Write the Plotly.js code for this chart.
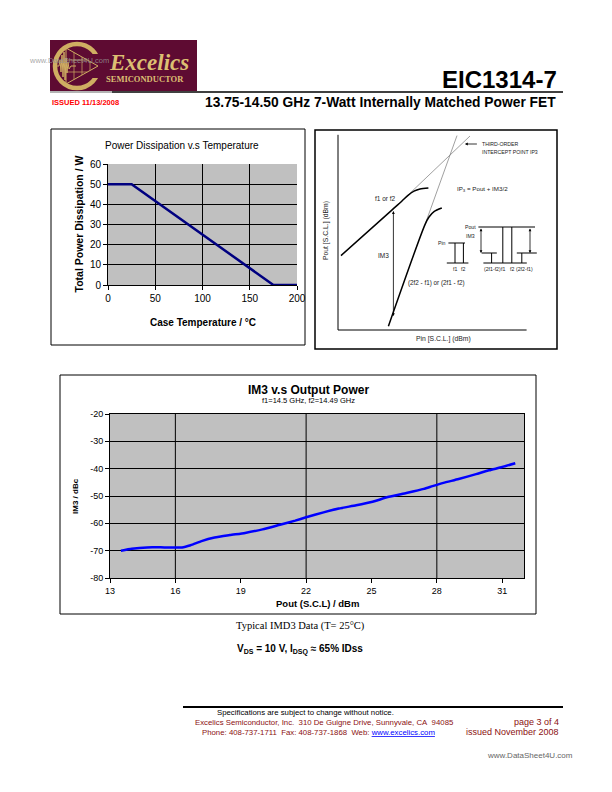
<!DOCTYPE html>
<html><head><meta charset="utf-8">
<script src="https://cdn.plot.ly/plotly-3.0.1.min.js"></script>
<style>html,body{margin:0;padding:0;background:#fff;}#chart{width:612px;height:792px;}</style>
</head><body><div id="chart"></div>
<script>
// ---------- Power dissipation vs temperature ----------
const caseTemp   = [0, 25, 175, 200];
const powerDiss  = [50, 50, 0, 0];

// ---------- IM3 vs output power ----------
const poutDbm = [13.5, 14.0, 14.7, 15.5, 16.3, 16.7, 17.2, 17.8, 18.5, 19.2, 20.0, 20.8, 21.5, 22.0,
                 22.8, 23.5, 24.3, 25.0, 25.8, 26.6, 27.4, 27.8, 28.3, 29.0, 29.8, 30.4, 31.0, 31.6];
const im3Dbc  = [-70.0, -69.3, -68.8, -68.8, -68.8, -68.0, -66.5, -65.2, -64.3, -63.5, -62.2, -60.5, -59.0, -57.8,
                 -56.0, -54.6, -53.4, -52.2, -50.3, -48.9, -47.4, -46.4, -45.2, -43.8, -42.0, -40.6, -39.4, -38.0];
const im3XTicks    = [13, 16, 19, 22, 25, 28, 31];
const im3GridX     = [16, 22, 28];
const im3YTicks    = [-80, -70, -60, -50, -40, -30, -20];
const im3YTickText = ['-80', '-70', '-60', '-50', '-40', '-30', '-20'];

// ---------- Schematic: Pout vs Pin (schematic units) ----------
const diagAxisPin  = [0, 0, 94.3];
const diagAxisPout = [97.6, 0, 0];
const fundPin  = [1.5, 27.2, 32, 35, 38, 41, 45.2];
const fundPout = [37.2, 60.2, 64.5, 67.3, 69.4, 70.5, 71.0];
const fundExtPin  = [30, 66];
const fundExtPout = [62.7, 97];
const im3Pin   = [25.2, 43.5, 45.5, 48, 51.9];
const im3Pout  = [1.9, 52.7, 56.5, 59.2, 61];
const im3ExtPin  = [43.5, 59.5];
const im3ExtPout = [52.7, 97.2];
// spectrum inset segments
const insetPin  = [55.2, 63.5, null, 58.5, 58.5, null, 62.7, 62.7, null, 54.4, 65.2, null,
                   70.2, 98.5, null, 71.8, 79.4, null, 76.8, 76.8, null, 82.4, 82.4, null, 86.9, 86.9, null,
                   89.4, 99.4, null, 91.9, 91.9, null, 72.7, 94.4];
const insetPout = [43.5, 43.5, null, 43.5, 33.5, null, 43.5, 33.5, null, 33.5, 33.5, null,
                   51.5, 51.5, null, 38.5, 38.5, null, 38.5, 33.5, null, 51.5, 33.5, null, 51.5, 33.5, null,
                   38.5, 38.5, null, 38.5, 33.5, null, 33.5, 33.5];

const W = 612, H = 792;
const PX = x => x / W, PY = y => 1 - y / H;
const ARIAL = 'Arial, "Liberation Sans", sans-serif';
const SERIF = '"Liberation Serif", "Times New Roman", serif';
const MAROON = '#5e0b32', GOLD = '#cfae62', PLOTGRAY = '#c0c0c0';

const traces = [
  {x: caseTemp, y: powerDiss, xaxis: 'x', yaxis: 'y', mode: 'lines', line: {color: '#000080', width: 2.5}},
  {x: poutDbm, y: im3Dbc, xaxis: 'x2', yaxis: 'y2', mode: 'lines', line: {color: '#0000ff', width: 2.5, shape: 'spline', smoothing: 0.5}},
  {x: diagAxisPin, y: diagAxisPout, xaxis: 'x3', yaxis: 'y3', mode: 'lines', line: {color: '#000', width: 1}},
  {x: fundExtPin, y: fundExtPout, xaxis: 'x3', yaxis: 'y3', mode: 'lines', line: {color: '#777', width: 0.7}},
  {x: im3ExtPin, y: im3ExtPout, xaxis: 'x3', yaxis: 'y3', mode: 'lines', line: {color: '#777', width: 0.7}},
  {x: fundPin, y: fundPout, xaxis: 'x3', yaxis: 'y3', mode: 'lines', line: {color: '#000', width: 1.5, shape: 'spline', smoothing: 0.8}},
  {x: im3Pin, y: im3Pout, xaxis: 'x3', yaxis: 'y3', mode: 'lines', line: {color: '#000', width: 1.5, shape: 'spline', smoothing: 0.8}},
  {x: insetPin, y: insetPout, xaxis: 'x3', yaxis: 'y3', mode: 'lines', connectgaps: false, line: {color: '#000', width: 1}}
];

const tickStyle = (size) => ({family: ARIAL, size: size, color: '#000'});

const layout = {
  width: W, height: H, margin: {l: 0, r: 0, t: 0, b: 0},
  paper_bgcolor: '#fff', plot_bgcolor: 'rgba(0,0,0,0)', showlegend: false,
  xaxis: {domain: [PX(108), PX(297)], anchor: 'y', range: [0, 200], dtick: 50, tick0: 0,
          showgrid: true, gridcolor: '#000', gridwidth: 1, zeroline: false,
          showline: true, linecolor: '#000', linewidth: 1, ticks: 'outside', ticklen: 4, tickcolor: '#000',
          tickfont: tickStyle(10), fixedrange: true},
  yaxis: {domain: [PY(285), PY(164)], anchor: 'x', range: [0, 60], dtick: 10, tick0: 0,
          showgrid: true, gridcolor: '#000', gridwidth: 1, zeroline: false,
          showline: true, linecolor: '#000', linewidth: 1, ticks: 'outside', ticklen: 4, tickcolor: '#000',
          tickfont: tickStyle(10), fixedrange: true},
  xaxis2: {domain: [PX(110), PX(524)], anchor: 'y2', range: [13, 32], tickvals: im3XTicks,
           showgrid: false, zeroline: false, showline: true, mirror: true, linecolor: '#000', linewidth: 1,
           ticks: 'outside', ticklen: 4, tickcolor: '#000', tickfont: tickStyle(9), fixedrange: true},
  yaxis2: {domain: [PY(578), PY(414)], anchor: 'x2', range: [-80, -20], tickvals: im3YTicks, ticktext: im3YTickText,
           showgrid: true, gridcolor: '#000', gridwidth: 1, zeroline: false, showline: true, mirror: true,
           linecolor: '#000', linewidth: 1, ticks: 'outside', ticklen: 4, tickcolor: '#000',
           tickfont: tickStyle(9), fixedrange: true},
  xaxis3: {domain: [PX(316), PX(556)], anchor: 'y3', range: [-11, 109], visible: false, fixedrange: true},
  yaxis3: {domain: [PY(347), PY(131)], anchor: 'x3', range: [-8.5, 99.5], visible: false, fixedrange: true},
  shapes: [],
  annotations: []
};

// gray plot areas for the two Excel-style charts (below grid lines)
layout.shapes.push(
  {type: 'rect', xref: 'x domain', yref: 'y domain', x0: 0, x1: 1, y0: 0, y1: 1, layer: 'below',
   fillcolor: PLOTGRAY, line: {width: 0}},
  {type: 'rect', xref: 'x2 domain', yref: 'y2 domain', x0: 0, x1: 1, y0: 0, y1: 1, layer: 'below',
   fillcolor: PLOTGRAY, line: {width: 0}}
);
im3GridX.forEach(v => layout.shapes.push({type: 'line', xref: 'x2', yref: 'y2 domain', x0: v, x1: v, y0: 0, y1: 1,
  line: {color: '#000', width: 1}, layer: 'below'}));

// panels' borders
const rectPaper = (x0, y0, x1, y1, line, fill) => ({type: 'rect', xref: 'paper', yref: 'paper',
  x0: PX(x0), x1: PX(x1), y0: PY(y1), y1: PY(y0), line: line, fillcolor: fill || 'rgba(0,0,0,0)'});
const linePaper = (x0, y0, x1, y1, color, width) => ({type: 'line', xref: 'paper', yref: 'paper',
  x0: PX(x0), x1: PX(x1), y0: PY(y0), y1: PY(y1), line: {color: color, width: width}});
const pathPaper = (pts, close, line, fill) => ({type: 'path', xref: 'paper', yref: 'paper',
  path: pts.map((p, i) => (i ? 'L' : 'M') + PX(p[0]) + ',' + PY(p[1])).join(' ') + (close ? ' Z' : ''),
  line: line, fillcolor: fill || 'rgba(0,0,0,0)'});

layout.shapes.push(
  rectPaper(51, 129, 305, 345, {color: '#000', width: 1}),
  rectPaper(315, 130, 557, 349, {color: '#000', width: 1.5}),
  rectPaper(60, 375, 536, 614, {color: '#000', width: 1}),
  // header rules
  linePaper(50, 92, 112, 92, '#9a9a9a', 1.5),
  linePaper(112, 92, 563, 92, '#000', 1.5),
  // footer rule
  linePaper(183, 707, 563, 707, '#000', 2),
  // logo
  rectPaper(50, 40, 197, 91, {width: 0}, MAROON),
  {type: 'circle', xref: 'paper', yref: 'paper', x0: PX(55), x1: PX(99), y0: PY(88), y1: PY(44),
   line: {color: GOLD, width: 4.5}},
  rectPaper(89, 54, 104, 78, {width: 0}, MAROON),
  pathPaper([[66, 48], [98, 66], [66, 84]], true, {color: GOLD, width: 1}),
  pathPaper([[74, 52.5], [74, 79.5]], false, {color: GOLD, width: 0.7}),
  pathPaper([[82, 57], [82, 75]], false, {color: GOLD, width: 0.7}),
  pathPaper([[90, 61.5], [90, 70.5]], false, {color: GOLD, width: 0.7}),
  pathPaper([[66, 60], [87.3, 60]], false, {color: GOLD, width: 0.7}),
  pathPaper([[66, 72], [87.3, 72]], false, {color: GOLD, width: 0.7}),
  pathPaper([[57, 66], [59, 66], [60, 60], [61, 72], [62, 55], [63, 77], [64, 52], [65, 80], [66, 58],
             [67, 73], [68, 62], [69, 69], [71, 66], [76, 66]], false, {color: GOLD, width: 1})
);

// text helpers
const note = (text, x, y, o) => Object.assign({text: text, x: PX(x), y: PY(y), xref: 'paper', yref: 'paper',
  showarrow: false, xanchor: 'center', yanchor: 'middle', font: {family: ARIAL, size: 10, color: '#000'}}, o || {});
const dnote = (text, u, v, o) => Object.assign({text: text, x: u, y: v, xref: 'x3', yref: 'y3',
  showarrow: false, xanchor: 'center', yanchor: 'middle', font: {family: ARIAL, size: 6, color: '#222'}}, o || {});
const darrow = (u, v0, v1, side, du) => ({x: u, y: v1, ax: (du === undefined ? u : du), ay: v0, xref: 'x3', yref: 'y3',
  axref: 'x3', ayref: 'y3', text: '', showarrow: true, arrowhead: 2, arrowsize: 0.7, arrowwidth: 0.8,
  arrowcolor: '#000', arrowside: side, standoff: 0, startstandoff: 0});
const small = {font: {family: ARIAL, size: 5.2, color: '#222'}};

const NB = '\u00a0';
layout.annotations.push(
  // header
  note('<b>EIC1314-7</b>', 559, 80, {xanchor: 'right', font: {family: ARIAL, size: 24, color: '#000'}}),
  note('<b>13.75-14.50 GHz 7-Watt Internally Matched Power FET</b>', 558, 102, {xanchor: 'right', font: {family: ARIAL, size: 13.8, color: '#000'}}),
  note('<b>ISSUED 11/13/2008</b>', 50, 102.5, {xanchor: 'left', font: {family: ARIAL, size: 7.5, color: '#ff0000'}}),
  note('<b><i>Excelics</i></b>', 107, 62, {xanchor: 'left', font: {family: SERIF, size: 23, color: '#dcbf72'}}),
  note('<b>SEMICONDUCTOR</b>', 145, 79, {font: {family: SERIF, size: 8.5, color: '#dcbf72'}}),
  note('www.DataSheet4U.com', 27, 60, {xanchor: 'left', font: {family: ARIAL, size: 7.5, color: 'rgba(150,150,150,0.85)'}}),
  // power chart
  note('Power Dissipation v.s Temperature', 182, 145, {font: {family: ARIAL, size: 10, color: '#000'}}),
  note('<b>Total Power Dissipation / W</b>', 78, 224.5, {textangle: -90, font: {family: ARIAL, size: 10.5, color: '#000'}}),
  note('<b>Case Temperature / °C</b>', 202.5, 322, {font: {family: ARIAL, size: 10, color: '#000'}}),
  // schematic
  note('Pout [S.C.L.] (dBm)', 326, 231, {textangle: -90, font: {family: ARIAL, size: 6.8, color: '#222'}}),
  note('Pin [S.C.L.] (dBm)', 443, 339, {font: {family: ARIAL, size: 6.8, color: '#222'}}),
  dnote('f1 or f2', 23.5, 65.7, {font: {family: ARIAL, size: 6.5, color: '#222'}}),
  dnote('IM3', 22.7, 37.2, {font: {family: ARIAL, size: 6.5, color: '#222'}}),
  dnote('(2f2 - f1) or (2f1 - f2)', 49, 23.5, {font: {family: ARIAL, size: 6.3, color: '#222'}}),
  dnote('IP<sub>3</sub> = Pout + IM3/2', 58.5, 70.5, {xanchor: 'left', font: {family: ARIAL, size: 6.2, color: '#222'}}),
  dnote('THIRD-ORDER', 70.8, 93, Object.assign({xanchor: 'left'}, small)),
  dnote('INTERCEPT POINT IP3', 70.8, 89, Object.assign({xanchor: 'left'}, small)),
  dnote('Pin', 55, 43.5, Object.assign({xanchor: 'right'}, small)),
  dnote('Pout', 70, 51.5, Object.assign({xanchor: 'right'}, small)),
  dnote('IM3', 69.5, 47, Object.assign({xanchor: 'right'}, small)),
  dnote('f1', 58.5, 30.5, small), dnote('f2', 62.7, 30.5, small),
  dnote('(2f1-f2)', 77.3, 30.5, small), dnote('f1', 82.4, 30.5, small), dnote('f2', 86.9, 30.5, small), dnote('(2f2-f1)', 93.2, 30.5, small),
  darrow(27.7, 60.2, 7, 'end+start'),
  darrow(71.5, 51.5, 38.5, 'end+start'),
  darrow(96, 51.5, 38.5, 'end+start'),
  Object.assign(darrow(63.5, 93, 93, 'end', 70.2), {y: 93, ay: 93}),
  // IM3 chart
  note('<b>IM3 v.s Output Power</b>', 308, 390, {font: {family: ARIAL, size: 12, color: '#000'}}),
  note('f1=14.5 GHz, f2=14.49 GHz', 308, 401, {font: {family: ARIAL, size: 7.5, color: '#000'}}),
  note('<b>IM3 / dBc</b>', 75, 496, {textangle: -90, font: {family: ARIAL, size: 8, color: '#000'}}),
  note('<b>Pout (S.C.L) / dBm</b>', 317, 603, {font: {family: ARIAL, size: 9.5, color: '#000'}}),
  // captions
  note('Typical IMD3 Data (T= 25°C)', 300, 626, {font: {family: SERIF, size: 10.5, color: '#000'}}),
  note('<b>V<sub>DS</sub> = 10 V, I<sub>DSQ</sub> ≈ 65% IDss</b>', 300, 649, {font: {family: ARIAL, size: 10, color: '#000'}}),
  // footer
  note('Specifications are subject to change without notice.', 305.5, 712.5, {font: {family: ARIAL, size: 7.8, color: '#000'}}),
  note('Excelics Semiconductor, Inc.' + NB + NB + '310 De Guigne Drive, Sunnyvale, CA' + NB + NB + '94085', 324.5, 722, {font: {family: ARIAL, size: 7.8, color: '#8b1010'}}),
  note('Phone: 408-737-1711' + NB + NB + 'Fax: 408-737-1868' + NB + NB + 'Web: <span style="color:#0000ff"><u>www.excelics.com</u></span>', 318.5, 732, {font: {family: ARIAL, size: 7.8, color: '#8b1010'}}),
  note('page 3 of 4', 561, 722, {xanchor: 'right', font: {family: ARIAL, size: 9, color: '#8b1010'}}),
  note('issued November 2008', 561, 732, {xanchor: 'right', font: {family: ARIAL, size: 9, color: '#8b1010'}}),
  note('www.DataSheet4U.com', 530, 755, {font: {family: ARIAL, size: 8, color: '#666'}})
);

Plotly.newPlot('chart', traces, layout, {staticPlot: true, displayModeBar: false});
</script>
</body></html>
